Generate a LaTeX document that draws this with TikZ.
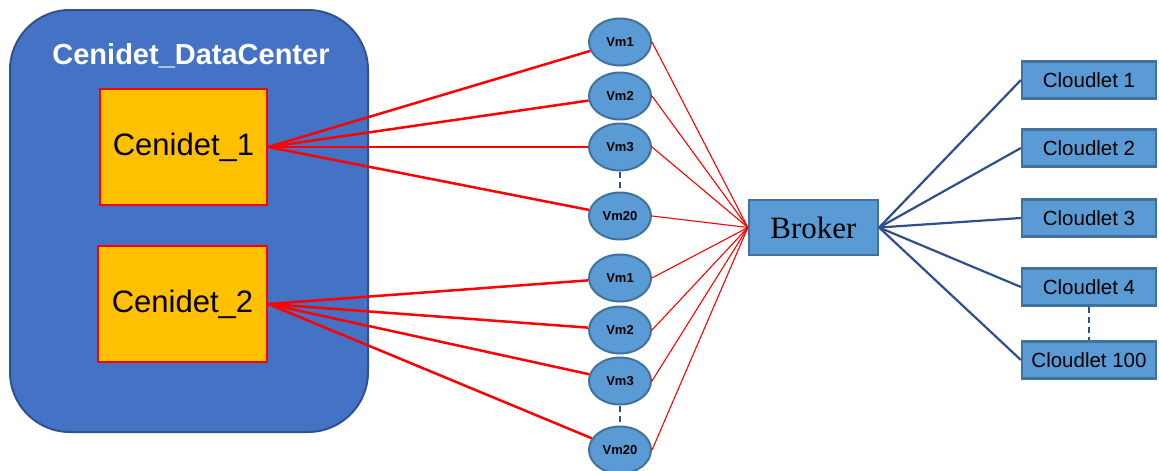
\documentclass[tikz,border=0pt]{standalone}
\usepackage{fontspec}
\setmainfont{Liberation Sans}
\newfontfamily\brokerfont{Liberation Serif}
\usetikzlibrary{positioning}
\usetikzlibrary{shapes.geometric}

\definecolor{dcblue}{HTML}{4472C4}
\definecolor{dcedge}{HTML}{2F528F}
\definecolor{hostgold}{HTML}{FFC000}
\definecolor{vmblue}{HTML}{5B9BD5}
\definecolor{vmedge}{HTML}{41719C}
\definecolor{linknavy}{HTML}{2F4F8A}

\tikzset{
	host/.style={draw=red, line width=2.5pt, fill=hostgold, minimum width=167pt, minimum height=116pt, inner sep=0pt, font=\fontsize{31}{31}\selectfont},
	vm/.style={ellipse, draw=vmedge, line width=2pt, fill=vmblue, minimum width=62pt, minimum height=47pt, inner sep=0pt, font=\fontsize{13}{13}\selectfont\bfseries},
	cloudlet/.style={draw=vmedge, line width=2.2pt, fill=vmblue, minimum width=134pt, minimum height=37pt, inner sep=0pt, font=\fontsize{20.5}{21}\selectfont},
	hostlink/.style={red, line width=2.5pt},
	vmlink/.style={red, line width=1.1pt},
	cllink/.style={linknavy, line width=2.2pt},
	dotlink/.style={linknavy, line width=2.5pt, dash pattern=on 6pt off 4pt}
}

\begin{document}
\begin{tikzpicture}[x=1pt,y=-1pt]
	\useasboundingbox (0,0) rectangle (1159,471);

	% Datacenter
	\draw[fill=dcblue, draw=dcedge, line width=2pt, rounded corners=60pt] (10,10) rectangle (368,432);
	\node[text=white, font=\fontsize{29}{29}\selectfont\bfseries] (dctitle) at (191,56) {Cenidet\_DataCenter};

	% Hosts
	\node[host] (host1) at (183.5,147) {Cenidet\_1};
	\node[host, minimum width=169pt] (host2) at (182.5,304) {Cenidet\_2};

	% Virtual machines
	\node[vm] (vma1) at (620,42) {Vm1};
	\node[vm] (vma2) at (620,96) {Vm2};
	\node[vm] (vma3) at (620,147) {Vm3};
	\node[vm] (vma20) at (620,216) {Vm20};
	\node[vm] (vmb1) at (620,278) {Vm1};
	\node[vm] (vmb2) at (620,330) {Vm2};
	\node[vm] (vmb3) at (620,381) {Vm3};
	\node[vm] (vmb20) at (620,450) {Vm20};

	% Broker
	\node[draw=vmedge, line width=2.2pt, fill=vmblue, minimum width=129pt, minimum height=55pt, inner sep=0pt, font=\fontsize{31}{31}\brokerfont] (broker) at (813.5,227.5) {Broker};

	% Cloudlets
	\node[cloudlet] (cl1) at (1089,80) {Cloudlet 1};
	\node[cloudlet] (cl2) at (1089,148) {Cloudlet 2};
	\node[cloudlet] (cl3) at (1089,218) {Cloudlet 3};
	\node[cloudlet] (cl4) at (1089,287) {Cloudlet 4};
	\node[cloudlet] (cl100) at (1089,360) {Cloudlet 100};

	% Links
	\foreach \v in {vma1,vma2,vma3,vma20}
		\draw[hostlink] (host1.east) -- (\v);
	\foreach \v in {vmb1,vmb2,vmb3,vmb20}
		\draw[hostlink] (host2.east) -- (\v);
	\foreach \v in {vma1,vma2,vma3,vma20,vmb1,vmb2,vmb3,vmb20}
		\draw[vmlink] (\v.east) -- (broker.west);
	\foreach \c in {cl1,cl2,cl3,cl4,cl100}
		\draw[cllink] (broker.east) -- (\c.west);

	\draw[dotlink] (vma3) -- (vma20);
	\draw[dotlink] (vmb3) -- (vmb20);
	\draw[dotlink] (cl4) -- (cl100);
\end{tikzpicture}
\end{document}
